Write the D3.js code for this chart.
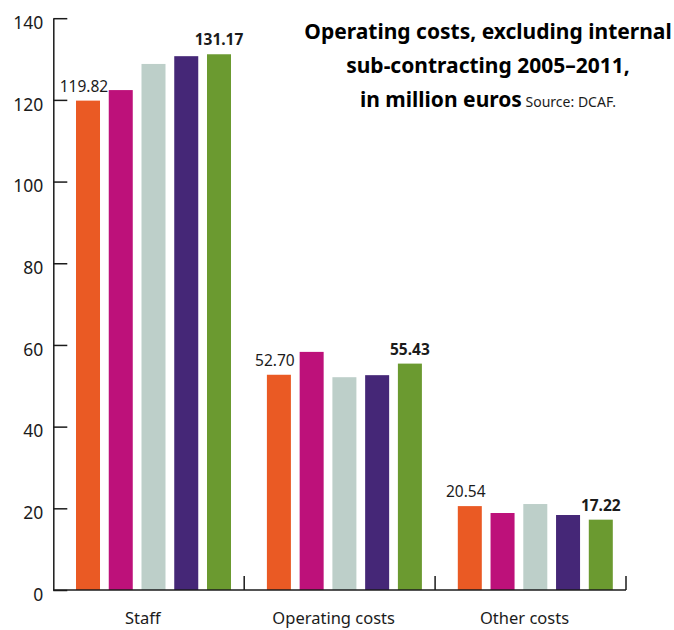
<!DOCTYPE html>
<html>
<head>
<meta charset="utf-8">
<script src="https://cdn.jsdelivr.net/npm/d3@7/dist/d3.min.js"></script>
<style>
  html, body { margin: 0; padding: 0; background: #fff; }
  svg { display: block; font-family: "Noto Sans", "DejaVu Sans", sans-serif; }
</style>
</head>
<body>
<svg id="chart" width="674" height="630"></svg>
<script>
// Operating costs by type, five periods per group (million euros)
const categories = ["Staff", "Operating costs", "Other costs"];
const periods = ["p1", "p2", "p3", "p4", "p5"];
const staffValues = [119.82, 122.4, 128.8, 130.7, 131.17];
const operatingValues = [52.70, 58.3, 52.1, 52.6, 55.43];
const otherValues = [20.54, 18.85, 21.05, 18.36, 17.22];
const yTicks = [0, 20, 40, 60, 80, 100, 120, 140];
const colors = ["#ea5a24", "#bd117a", "#bdcfc9", "#452777", "#6b9a30"];
const titleLines = ["Operating costs, excluding internal", "sub-contracting 2005–2011,", "in million euros"];
const sourceText = "Source: DCAF.";

const seriesByCategory = [staffValues, operatingValues, otherValues];
const rows = categories.map((c, i) => ({
  category: c,
  values: periods.map((p, j) => ({ period: p, index: j, value: seriesByCategory[i][j] }))
}));

const svg = d3.select("#chart");
const ink = "#1b1b1b";

const plot = { left: 53.3, right: 626, top: 18.2, bottom: 590 };

const y = d3.scaleLinear().domain([0, 140]).range([plot.bottom, plot.top]);
const x0 = d3.scaleBand().domain(categories).range([plot.left, plot.right]).padding(0);
const x1 = d3.scaleBand().domain(periods).range([22.7, 177.7]).paddingInner(0.267).paddingOuter(0);
const color = d3.scaleOrdinal().domain(periods).range(colors);

// Bars
const groups = svg.append("g").selectAll("g")
  .data(rows)
  .join("g")
  .attr("transform", d => `translate(${x0(d.category)},0)`);

groups.selectAll("rect")
  .data(d => d.values)
  .join("rect")
  .attr("x", d => x1(d.period))
  .attr("y", d => y(d.value))
  .attr("width", x1.bandwidth())
  .attr("height", d => y(0) - y(d.value))
  .attr("fill", d => color(d.period));

// Value labels on the first and last period of each group
groups.selectAll("text.value")
  .data(d => d.values.filter(v => v.index === 0 || v.index === periods.length - 1))
  .join("text")
  .attr("class", "value")
  .attr("x", d => x1(d.period) + x1.bandwidth() / 2)
  .attr("dx", d => d.index === 0 ? -4 : 0)
  .attr("y", d => y(d.value) - 9)
  .attr("text-anchor", "middle")
  .attr("font-size", 15.5)
  .attr("font-weight", d => d.index === 0 ? 400 : 700)
  .attr("fill", ink)
  .text(d => d.value.toFixed(2));

// Y axis with inward ticks
const yAxis = d3.axisLeft(y)
  .tickValues(yTicks)
  .tickSizeInner(-14)
  .tickSizeOuter(0)
  .tickPadding(10);

const gy = svg.append("g")
  .attr("transform", `translate(${plot.left},0)`)
  .call(yAxis);
gy.select(".domain").attr("stroke", ink).attr("stroke-width", 1.5);
gy.selectAll(".tick line").attr("stroke", ink).attr("stroke-width", 1.5);
gy.selectAll(".tick text")
  .attr("font-size", 17.5)
  .attr("font-family", "'Noto Sans', sans-serif")
  .attr("fill", ink)
  .attr("dy", "0.58em");

// X baseline and group separators
svg.append("line")
  .attr("x1", plot.left).attr("x2", plot.right)
  .attr("y1", y(0)).attr("y2", y(0))
  .attr("stroke", ink).attr("stroke-width", 1.5);

svg.append("g").selectAll("line")
  .data(categories)
  .join("line")
  .attr("x1", d => x0(d) + x0.bandwidth())
  .attr("x2", d => x0(d) + x0.bandwidth())
  .attr("y1", y(0))
  .attr("y2", y(0) - 14)
  .attr("stroke", ink).attr("stroke-width", 1.5);

// Category labels
svg.append("g").selectAll("text")
  .data(categories)
  .join("text")
  .attr("x", d => x0(d) + x0.bandwidth() / 2 - 6)
  .attr("y", 624)
  .attr("text-anchor", "middle")
  .attr("font-size", 16.5)
  .attr("fill", ink)
  .text(d => d);

// Title block
const title = svg.append("g").attr("text-anchor", "middle").attr("fill", "#000");
const titleY = [39, 73, 107];
titleLines.forEach((line, i) => {
  const t = title.append("text")
    .attr("x", 488)
    .attr("y", titleY[i]);
  t.append("tspan")
    .attr("font-size", 21)
    .attr("font-weight", 700)
    .text(line);
  if (i === titleLines.length - 1) {
    t.append("tspan")
      .attr("font-size", 14)
      .attr("font-weight", 400)
      .attr("fill", ink)
      .text(" " + sourceText);
  }
});
</script>
</body>
</html>
